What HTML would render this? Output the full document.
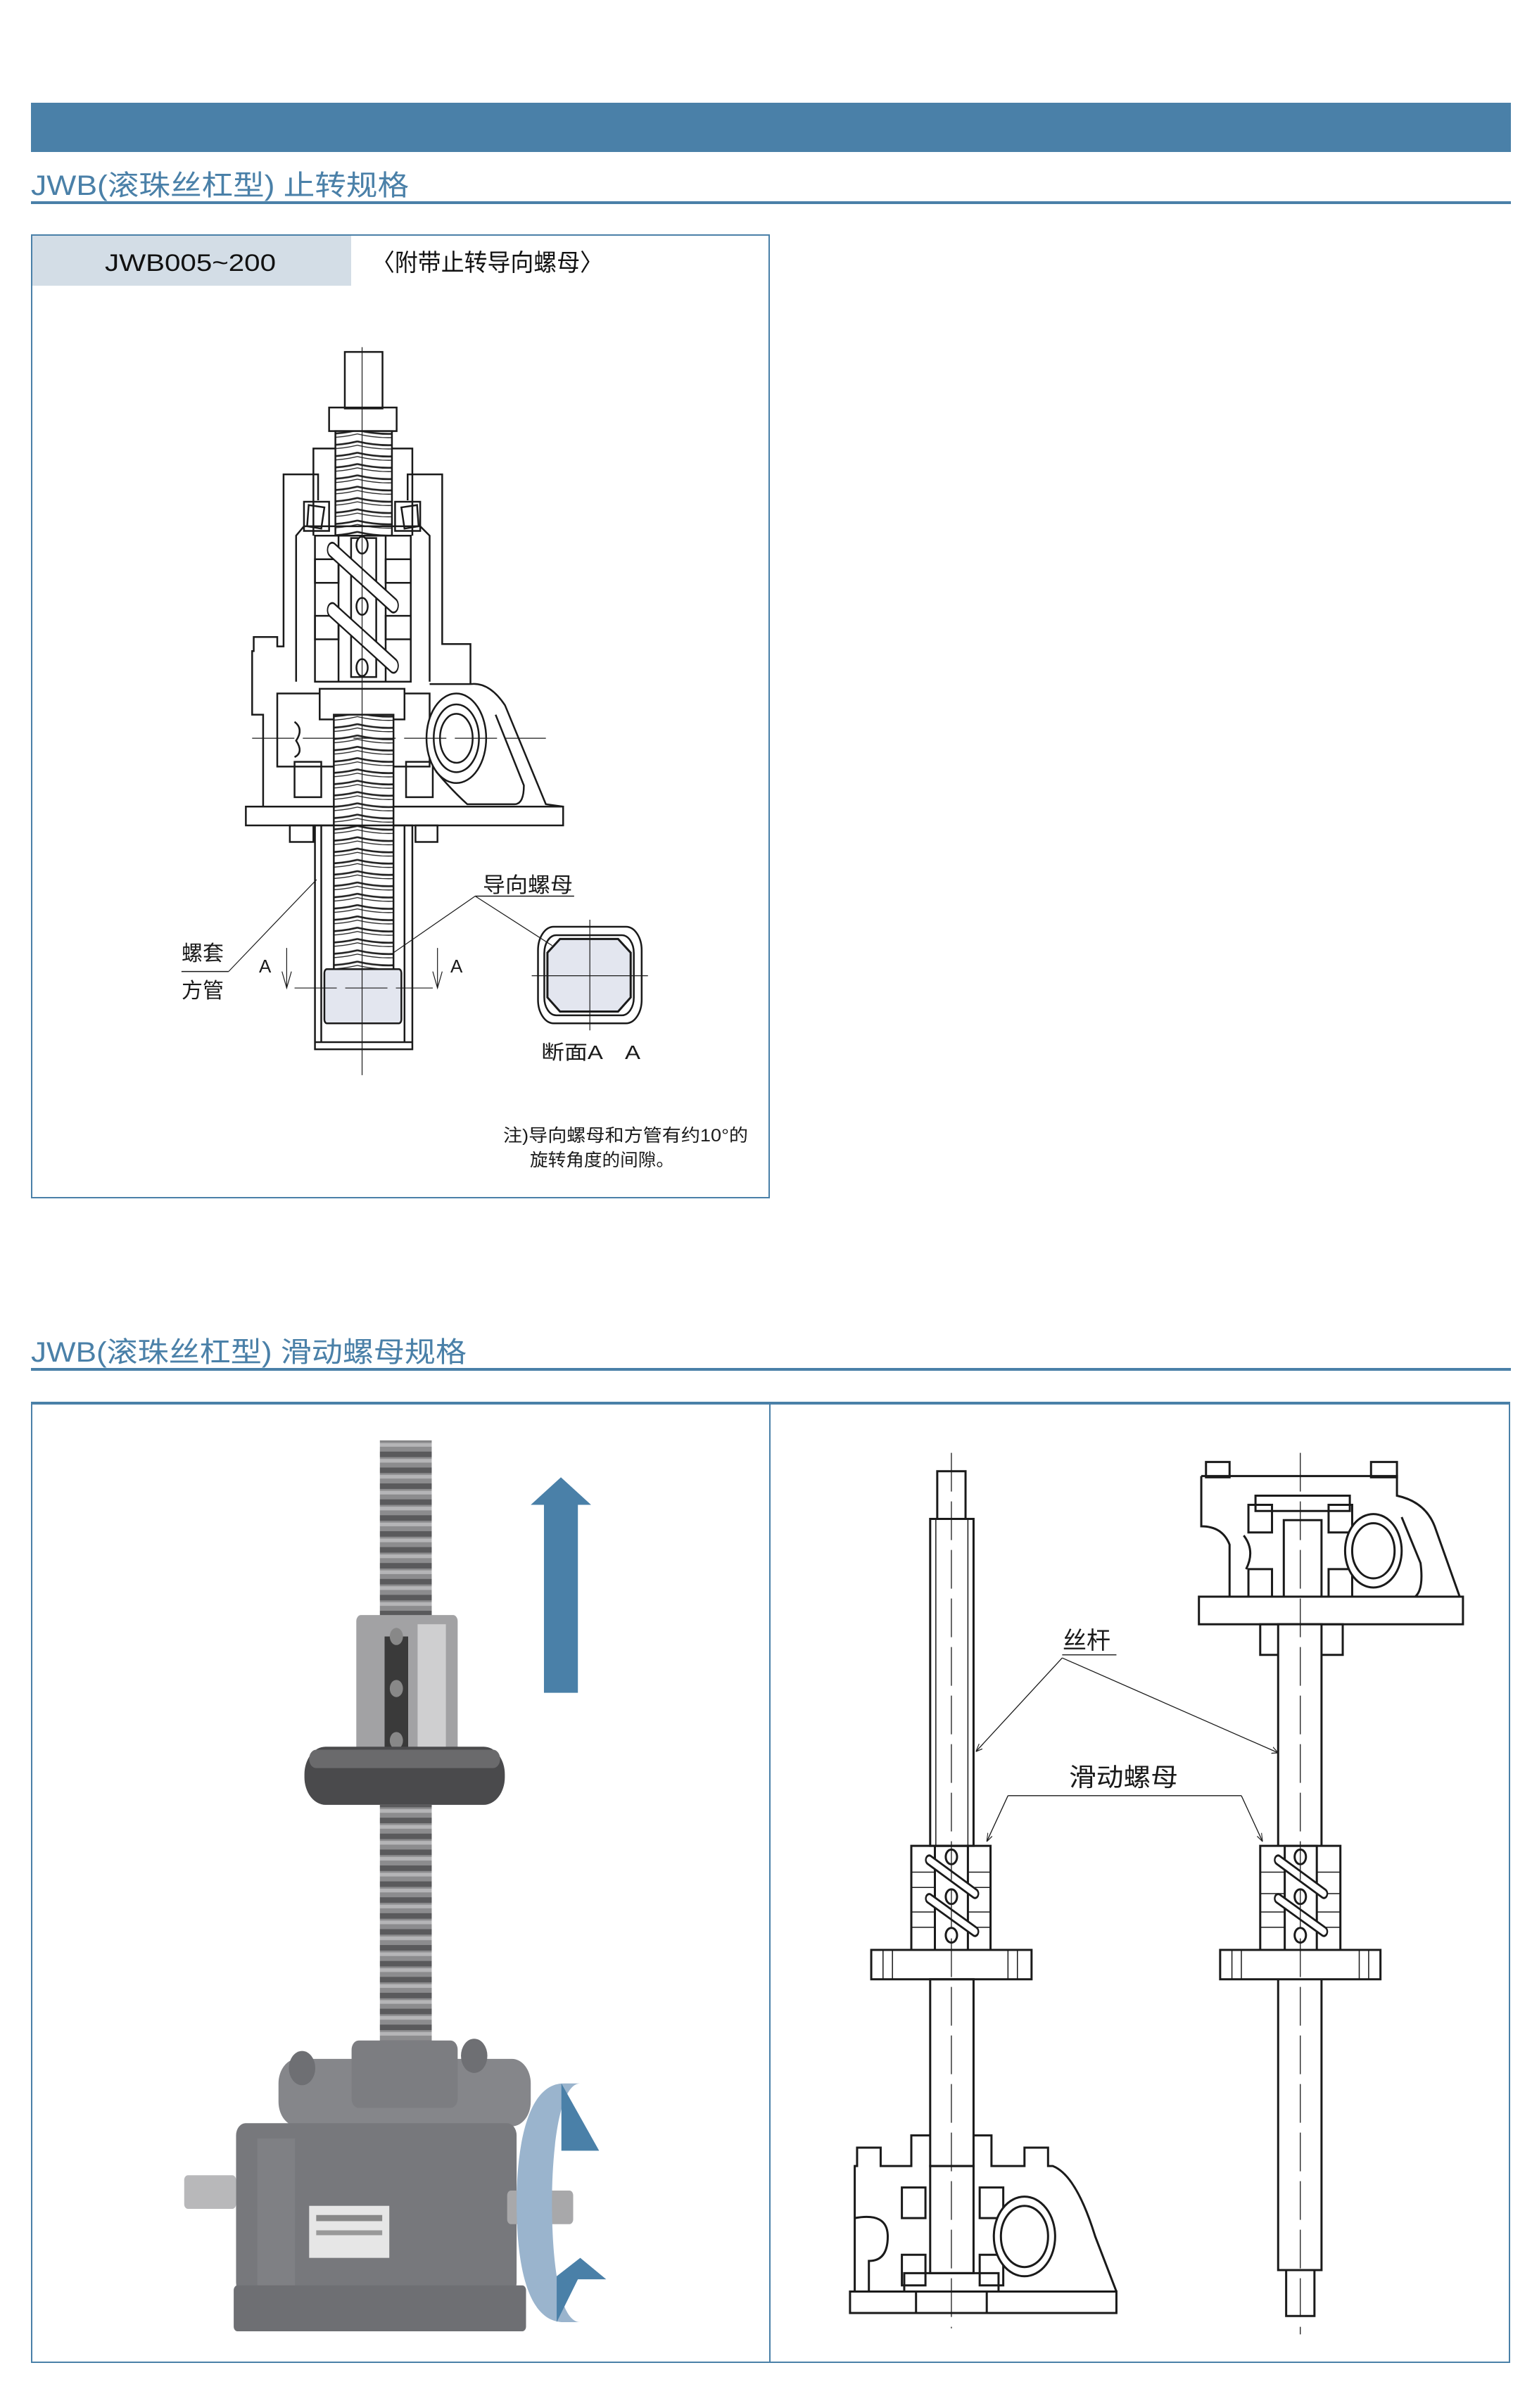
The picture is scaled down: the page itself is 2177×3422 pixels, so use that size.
<!DOCTYPE html>
<html><head><meta charset="utf-8"><style>
html,body{margin:0;padding:0;background:#fff}
svg{display:block}
.t{font-family:"Liberation Sans","Noto Sans CJK SC",sans-serif}
</style></head><body>
<svg width="2177" height="3422" viewBox="0 0 2177 3422" xmlns="http://www.w3.org/2000/svg">
<defs>
<pattern id="thr" patternUnits="userSpaceOnUse" width="200" height="24">
<rect width="200" height="24" fill="#fff"/>
<path d="M0,4 Q100,20 200,4" fill="none" stroke="#222" stroke-width="4"/>
<path d="M0,12 Q100,28 200,12" fill="none" stroke="#222" stroke-width="2"/>
</pattern>
<pattern id="pthr" patternUnits="userSpaceOnUse" width="200" height="26">
<rect width="200" height="26" fill="#8c8c8e"/>
<rect y="0" width="200" height="9" fill="#5a5a5c"/>
<rect y="12" width="200" height="6" fill="#b5b5b7"/>
</pattern>
<marker id="ah" viewBox="0 0 10 10" refX="10" refY="5" markerWidth="8" markerHeight="8" orient="auto"><path d="M0,1 L10,5 L0,9" fill="none" stroke="#222" stroke-width="1.2"/></marker>
</defs>

<rect x="44" y="146" width="2103" height="70" fill="#4a80a8"/>
<text class="t" x="44" y="277" font-size="40" fill="#4a80a8" textLength="537" lengthAdjust="spacingAndGlyphs">JWB(滚珠丝杠型)  止转规格</text>
<rect x="44" y="286" width="2103" height="4" fill="#4a80a8"/>

<rect x="45" y="334" width="1048" height="1368" fill="none" stroke="#4a80a8" stroke-width="2"/>
<rect x="46" y="335" width="453" height="71" fill="#d3dde6"/>
<text class="t" x="149" y="385" font-size="34" fill="#111" textLength="243" lengthAdjust="spacingAndGlyphs">JWB005~200</text>
<text class="t" x="528" y="385" font-size="34" fill="#111" textLength="329" lengthAdjust="spacingAndGlyphs">〈附带止转导向螺母〉</text>

<g transform="translate(240,480) scale(0.4464,0.6696)" fill="none" stroke="#1a1a1a" stroke-width="2.5" >
<g>
<rect x="560" y="30" width="120" height="120" vector-effect="non-scaling-stroke"/>
<rect x="510" y="148" width="215" height="50" vector-effect="non-scaling-stroke"/>
<rect x="530" y="198" width="180" height="222" fill="url(#thr)" vector-effect="non-scaling-stroke"/>
<polyline points="460,420 460,235 530,235" vector-effect="non-scaling-stroke"/>
<polyline points="710,235 775,235 775,420" vector-effect="non-scaling-stroke"/>
<polyline points="475,345 475,290 365,290 365,655 345,655 345,635 270,635 270,665 265,665 265,800 300,800 300,995" vector-effect="non-scaling-stroke"/>
<polyline points="760,345 760,290 870,290 870,650 960,650 960,735" vector-effect="non-scaling-stroke"/>
<rect x="430" y="348" width="80" height="62" vector-effect="non-scaling-stroke"/>
<polygon points="445,355 495,360 485,405 440,400" vector-effect="non-scaling-stroke"/>
<rect x="720" y="348" width="80" height="62" vector-effect="non-scaling-stroke"/>
<polygon points="740,360 790,355 795,400 750,405" vector-effect="non-scaling-stroke"/>
<polyline points="405,730 405,420 430,400 800,400 830,420 830,730" vector-effect="non-scaling-stroke"/>
<rect x="465" y="420" width="305" height="310" vector-effect="non-scaling-stroke"/>
<rect x="540" y="420" width="150" height="310" vector-effect="non-scaling-stroke"/>
<rect x="580" y="425" width="80" height="295" vector-effect="non-scaling-stroke"/>
<rect x="465" y="470" width="75" height="50" vector-effect="non-scaling-stroke"/>
<rect x="690" y="470" width="80" height="50" vector-effect="non-scaling-stroke"/>
<rect x="465" y="590" width="75" height="50" vector-effect="non-scaling-stroke"/>
<rect x="690" y="590" width="80" height="50" vector-effect="non-scaling-stroke"/>
<line x1="520" y1="450" x2="715" y2="568" stroke-width="34" stroke-linecap="round"/>
<line x1="520" y1="450" x2="715" y2="568" stroke-width="26" stroke="#fff" stroke-linecap="round"/>
<line x1="520" y1="578" x2="715" y2="696" stroke-width="34" stroke-linecap="round"/>
<line x1="520" y1="578" x2="715" y2="696" stroke-width="26" stroke="#fff" stroke-linecap="round"/>
<circle cx="615" cy="440" r="18" fill="#fff" vector-effect="non-scaling-stroke"/>
<circle cx="615" cy="570" r="18" fill="#fff" vector-effect="non-scaling-stroke"/>
<circle cx="615" cy="700" r="18" fill="#fff" vector-effect="non-scaling-stroke"/>
<rect x="345" y="755" width="485" height="155" vector-effect="non-scaling-stroke"/>
<rect x="480" y="745" width="270" height="65" fill="#fff" vector-effect="non-scaling-stroke"/>
<rect x="400" y="900" width="85" height="75" vector-effect="non-scaling-stroke"/>
<rect x="755" y="900" width="85" height="75" vector-effect="non-scaling-stroke"/>
<path d="M400,815 Q430,830 405,855 Q430,880 400,890" vector-effect="non-scaling-stroke"/>
<path d="M830,735 L960,735 Q1020,730 1070,780 L1200,990 L1255,995" vector-effect="non-scaling-stroke"/>
<path d="M1040,800 L1130,950 Q1130,990 1100,990 L950,990 Q900,960 850,920" vector-effect="non-scaling-stroke"/>
<circle cx="915" cy="850" r="95" fill="#fff" vector-effect="non-scaling-stroke"/>
<circle cx="915" cy="850" r="72" vector-effect="non-scaling-stroke"/>
<circle cx="915" cy="850" r="52" vector-effect="non-scaling-stroke"/>
<rect x="245" y="995" width="1010" height="40" fill="#fff" vector-effect="non-scaling-stroke"/>
<rect x="525" y="800" width="190" height="540" fill="url(#thr)" vector-effect="non-scaling-stroke"/>
<rect x="465" y="1035" width="310" height="475" vector-effect="non-scaling-stroke"/>
<line x1="485" y1="1035" x2="485" y2="1495" vector-effect="non-scaling-stroke"/>
<line x1="750" y1="1035" x2="750" y2="1495" vector-effect="non-scaling-stroke"/>
<line x1="465" y1="1495" x2="775" y2="1495" vector-effect="non-scaling-stroke"/>
<rect x="385" y="1035" width="75" height="35" vector-effect="non-scaling-stroke"/>
<rect x="785" y="1035" width="70" height="35" vector-effect="non-scaling-stroke"/>
<rect x="495" y="1340" width="245" height="115" rx="8" fill="#e3e6ef" vector-effect="non-scaling-stroke"/>
<line x1="615" y1="20" x2="615" y2="1565" stroke-width="1.2" vector-effect="non-scaling-stroke"/>
<line x1="265" y1="850" x2="1200" y2="850" stroke-width="1.2" stroke-dasharray="60 12" vector-effect="non-scaling-stroke"/>
<line x1="400" y1="1380" x2="840" y2="1380" stroke-width="1.2" stroke-dasharray="60 12" vector-effect="non-scaling-stroke"/>
<line x1="375" y1="1295" x2="375" y2="1380" stroke-width="1.2" vector-effect="non-scaling-stroke"/>
<polyline points="360,1345 375,1380 390,1345" stroke-width="1.2" vector-effect="non-scaling-stroke"/>
<line x1="855" y1="1295" x2="855" y2="1380" stroke-width="1.2" vector-effect="non-scaling-stroke"/>
<polyline points="840,1345 855,1380 870,1345" stroke-width="1.2" vector-effect="non-scaling-stroke"/>
<line x1="40" y1="1345" x2="190" y2="1345" stroke-width="1.5" vector-effect="non-scaling-stroke"/>
<line x1="190" y1="1345" x2="470" y2="1150" stroke-width="1.2" vector-effect="non-scaling-stroke"/>
<line x1="975" y1="1185" x2="1290" y2="1185" stroke-width="1.5" vector-effect="non-scaling-stroke"/>
<line x1="975" y1="1185" x2="715" y2="1305" stroke-width="1.2" vector-effect="non-scaling-stroke"/>
<line x1="975" y1="1185" x2="1220" y2="1290" stroke-width="1.2" vector-effect="non-scaling-stroke"/>
<rect x="1175" y="1250" width="330" height="205" rx="50" vector-effect="non-scaling-stroke"/>
<rect x="1195" y="1268" width="285" height="170" rx="38" vector-effect="non-scaling-stroke"/>
<path d="M1245,1276 L1430,1276 L1470,1305 L1470,1400 L1430,1430 L1245,1430 L1205,1400 L1205,1305 Z" fill="#e3e6ef" stroke-width="3" vector-effect="non-scaling-stroke"/>
<line x1="1340" y1="1235" x2="1340" y2="1470" stroke-width="1.2" vector-effect="non-scaling-stroke"/>
<line x1="1155" y1="1354" x2="1525" y2="1354" stroke-width="1.2" vector-effect="non-scaling-stroke"/>
</g></g>
<g class="t" fill="#1a1a1a" font-size="30">
<text x="686" y="1268" textLength="128" lengthAdjust="spacingAndGlyphs">导向螺母</text>
<text x="258" y="1365">螺套</text>
<text x="258" y="1418">方管</text>
<text x="368" y="1382" font-size="26">A</text>
<text x="640" y="1382" font-size="26">A</text>
<text x="769" y="1505" font-size="28" textLength="141" lengthAdjust="spacingAndGlyphs">断面A　A</text>
<text x="715" y="1622" font-size="25" textLength="348" lengthAdjust="spacingAndGlyphs">注)导向螺母和方管有约10°的</text>
<text x="753" y="1657" font-size="25" textLength="205" lengthAdjust="spacingAndGlyphs">旋转角度的间隙。</text>
</g>

<text class="t" x="44" y="1935" font-size="40" fill="#4a80a8" textLength="619" lengthAdjust="spacingAndGlyphs">JWB(滚珠丝杠型)  滑动螺母规格</text>
<rect x="44" y="1944" width="2103" height="4" fill="#4a80a8"/>
<rect x="45" y="1993" width="2100" height="1364" fill="none" stroke="#4a80a8" stroke-width="2"/>
<rect x="44" y="1992" width="2102" height="4" fill="#4a80a8"/>
<line x1="1094" y1="1993" x2="1094" y2="3357" stroke="#4a80a8" stroke-width="2"/>

<g transform="translate(44,1995) scale(0.67,0.87)">
<rect x="740" y="60" width="110" height="290" fill="url(#pthr)"/>
<rect x="690" y="345" width="215" height="240" rx="10" fill="#a2a2a4"/>
<rect x="820" y="360" width="60" height="220" fill="#cfcfd0"/>
<rect x="750" y="380" width="50" height="190" fill="#3a3a3a"/>
<circle cx="775" cy="380" r="14" fill="#888"/><circle cx="775" cy="465" r="14" fill="#888"/><circle cx="775" cy="550" r="14" fill="#888"/>
<rect x="580" y="560" width="425" height="95" rx="45" fill="#4a4a4c"/>
<rect x="590" y="565" width="405" height="30" rx="15" fill="#6a6a6c"/>
<rect x="740" y="655" width="110" height="390" fill="url(#pthr)"/>
<rect x="525" y="1070" width="535" height="110" rx="40" fill="#85868a"/>
<rect x="680" y="1040" width="225" height="110" rx="15" fill="#7c7d81"/>
<circle cx="575" cy="1085" r="28" fill="#6e6f73"/><circle cx="940" cy="1065" r="28" fill="#6e6f73"/>
<rect x="435" y="1175" width="595" height="280" rx="20" fill="#77787c"/>
<rect x="480" y="1200" width="80" height="240" fill="#7f8084"/>
<rect x="430" y="1440" width="620" height="75" rx="8" fill="#6e6f73"/>
<rect x="325" y="1260" width="110" height="55" rx="8" fill="#b8b8ba"/>
<rect x="1010" y="1285" width="140" height="55" rx="8" fill="#a8a8aa"/>
<rect x="590" y="1310" width="170" height="85" fill="#e6e6e6"/>
<rect x="605" y="1325" width="140" height="10" fill="#888"/>
<rect x="605" y="1350" width="140" height="8" fill="#999"/>
<polygon points="1124,120 1188,165 1160,165 1160,472 1088,472 1088,165 1060,165" fill="#4a80a8"/>
<path d="M1130,1110 C1050,1110 1030,1220 1030,1305 C1030,1400 1050,1500 1130,1500 L1165,1500 C1120,1500 1105,1400 1105,1305 C1105,1220 1120,1110 1165,1110 Z" fill="#9ab4cd"/>
<polygon points="1125,1110 1205,1220 1125,1220" fill="#4a80a8"/>
<polygon points="1115,1500 1115,1425 1165,1395 1220,1430 1160,1430" fill="#4a80a8"/>
</g>

<g transform="translate(1094,1995) scale(0.67,0.87)" fill="none" stroke="#1a1a1a">
<g stroke-width="3">
<rect x="355" y="110" width="60" height="78" vector-effect="non-scaling-stroke"/>
<rect x="340" y="188" width="92" height="534" vector-effect="non-scaling-stroke"/>
<line x1="352" y1="188" x2="352" y2="722" stroke-width="1.5" vector-effect="non-scaling-stroke"/>
<line x1="420" y1="188" x2="420" y2="722" stroke-width="1.5" vector-effect="non-scaling-stroke"/>
<rect x="300" y="722" width="168" height="170" vector-effect="non-scaling-stroke"/>
<rect x="350" y="722" width="70" height="170" vector-effect="non-scaling-stroke"/>
<path d="M300,765 H350 M300,790 H350 M300,830 H350 M300,855 H350 M420,765 H468 M420,790 H468 M420,830 H468 M420,855 H468" stroke-width="1.5" vector-effect="non-scaling-stroke"/>
<line x1="338" y1="745" x2="435" y2="800" stroke-width="18" stroke-linecap="round"/>
<line x1="338" y1="745" x2="435" y2="800" stroke-width="11" stroke="#fff" stroke-linecap="round"/>
<line x1="338" y1="808" x2="435" y2="862" stroke-width="18" stroke-linecap="round"/>
<line x1="338" y1="808" x2="435" y2="862" stroke-width="11" stroke="#fff" stroke-linecap="round"/>
<circle cx="385" cy="740" r="12" fill="#fff" vector-effect="non-scaling-stroke"/>
<circle cx="385" cy="805" r="12" fill="#fff" vector-effect="non-scaling-stroke"/>
<circle cx="385" cy="868" r="12" fill="#fff" vector-effect="non-scaling-stroke"/>
<rect x="215" y="892" width="340" height="48" vector-effect="non-scaling-stroke"/>
<path d="M260,892 V940 M505,892 V940 M240,892 V940 M525,892 V940" stroke-width="1.5" vector-effect="non-scaling-stroke"/>
<rect x="340" y="940" width="92" height="305" vector-effect="non-scaling-stroke"/>
<path d="M180,1450 V1245 H185 V1215 H235 V1245 H300 V1195 H340 M432,1195 H470 V1245 H540 V1215 H590 V1245 H600 Q650,1260 690,1360 L735,1450" vector-effect="non-scaling-stroke"/>
<path d="M180,1330 Q250,1320 250,1360 Q250,1400 210,1400 V1450" vector-effect="non-scaling-stroke"/>
<rect x="340" y="1245" width="92" height="175" vector-effect="non-scaling-stroke"/>
<rect x="280" y="1280" width="50" height="50" vector-effect="non-scaling-stroke"/>
<rect x="445" y="1280" width="50" height="50" vector-effect="non-scaling-stroke"/>
<rect x="280" y="1390" width="50" height="50" vector-effect="non-scaling-stroke"/>
<rect x="445" y="1390" width="50" height="50" vector-effect="non-scaling-stroke"/>
<rect x="285" y="1420" width="200" height="30" vector-effect="non-scaling-stroke"/>
<circle cx="540" cy="1360" r="65" fill="#fff" vector-effect="non-scaling-stroke"/>
<circle cx="540" cy="1360" r="50" vector-effect="non-scaling-stroke"/>
<rect x="170" y="1450" width="565" height="35" fill="#fff" vector-effect="non-scaling-stroke"/>
<rect x="310" y="1450" width="150" height="35" vector-effect="non-scaling-stroke"/>
<line x1="385" y1="80" x2="385" y2="1510" stroke-width="1.3" stroke-dasharray="55 14" vector-effect="non-scaling-stroke"/>
<rect x="925" y="95" width="50" height="25" vector-effect="non-scaling-stroke"/>
<rect x="1275" y="95" width="55" height="25" vector-effect="non-scaling-stroke"/>
<path d="M915,118 H1330 V150 Q1390,160 1410,200 L1470,330" vector-effect="non-scaling-stroke"/>
<path d="M915,118 V200 Q960,200 975,230 V315" vector-effect="non-scaling-stroke"/>
<path d="M1340,185 L1380,260 Q1390,320 1350,320 H1290" vector-effect="non-scaling-stroke"/>
<rect x="1030" y="150" width="200" height="25" vector-effect="non-scaling-stroke"/>
<rect x="1015" y="165" width="50" height="45" vector-effect="non-scaling-stroke"/>
<rect x="1185" y="165" width="50" height="45" vector-effect="non-scaling-stroke"/>
<rect x="1015" y="270" width="50" height="45" vector-effect="non-scaling-stroke"/>
<rect x="1185" y="270" width="50" height="45" vector-effect="non-scaling-stroke"/>
<path d="M1005,215 Q1030,240 1010,270" vector-effect="non-scaling-stroke"/>
<rect x="1090" y="190" width="80" height="170" vector-effect="non-scaling-stroke"/>
<circle cx="1280" cy="240" r="60" fill="#fff" vector-effect="non-scaling-stroke"/>
<circle cx="1280" cy="240" r="45" vector-effect="non-scaling-stroke"/>
<rect x="910" y="315" width="560" height="45" fill="#fff" vector-effect="non-scaling-stroke"/>
<rect x="1040" y="360" width="175" height="50" vector-effect="non-scaling-stroke"/>
<rect x="1078" y="360" width="92" height="1055" fill="#fff" vector-effect="non-scaling-stroke"/>
<rect x="1095" y="1415" width="60" height="75" vector-effect="non-scaling-stroke"/>
<rect x="1040" y="722" width="170" height="170" fill="#fff" vector-effect="non-scaling-stroke"/>
<rect x="1092" y="722" width="68" height="170" vector-effect="non-scaling-stroke"/>
<path d="M1040,765 H1092 M1040,800 H1092 M1040,830 H1092 M1040,855 H1092 M1160,765 H1210 M1160,800 H1210 M1160,830 H1210 M1160,855 H1210" stroke-width="1.5" vector-effect="non-scaling-stroke"/>
<line x1="1078" y1="745" x2="1175" y2="800" stroke-width="18" stroke-linecap="round"/>
<line x1="1078" y1="745" x2="1175" y2="800" stroke-width="11" stroke="#fff" stroke-linecap="round"/>
<line x1="1078" y1="808" x2="1175" y2="862" stroke-width="18" stroke-linecap="round"/>
<line x1="1078" y1="808" x2="1175" y2="862" stroke-width="11" stroke="#fff" stroke-linecap="round"/>
<circle cx="1125" cy="740" r="12" fill="#fff" vector-effect="non-scaling-stroke"/>
<circle cx="1125" cy="805" r="12" fill="#fff" vector-effect="non-scaling-stroke"/>
<circle cx="1125" cy="868" r="12" fill="#fff" vector-effect="non-scaling-stroke"/>
<rect x="955" y="892" width="340" height="48" fill="#fff" vector-effect="non-scaling-stroke"/>
<path d="M1000,892 V940 M1250,892 V940 M980,892 V940 M1270,892 V940" stroke-width="1.5" vector-effect="non-scaling-stroke"/>
<line x1="1125" y1="80" x2="1125" y2="1520" stroke-width="1.3" stroke-dasharray="55 14" vector-effect="non-scaling-stroke"/>
</g>
<g stroke-width="1.3">
<line x1="620" y1="410" x2="735" y2="410" vector-effect="non-scaling-stroke"/>
<line x1="620" y1="415" x2="437" y2="568" marker-end="url(#ah)" vector-effect="non-scaling-stroke"/>
<line x1="620" y1="415" x2="1078" y2="570" marker-end="url(#ah)" vector-effect="non-scaling-stroke"/>
<line x1="505" y1="640" x2="1000" y2="640" vector-effect="non-scaling-stroke"/>
<line x1="505" y1="640" x2="460" y2="715" marker-end="url(#ah)" vector-effect="non-scaling-stroke"/>
<line x1="1000" y1="640" x2="1045" y2="715" marker-end="url(#ah)" vector-effect="non-scaling-stroke"/>
</g>
</g>
<g class="t" fill="#1a1a1a">
<text x="1510" y="2343" font-size="34">丝杆</text>
<text x="1519" y="2538" font-size="36" textLength="155" lengthAdjust="spacingAndGlyphs">滑动螺母</text>
</g>
</svg>
</body></html>
